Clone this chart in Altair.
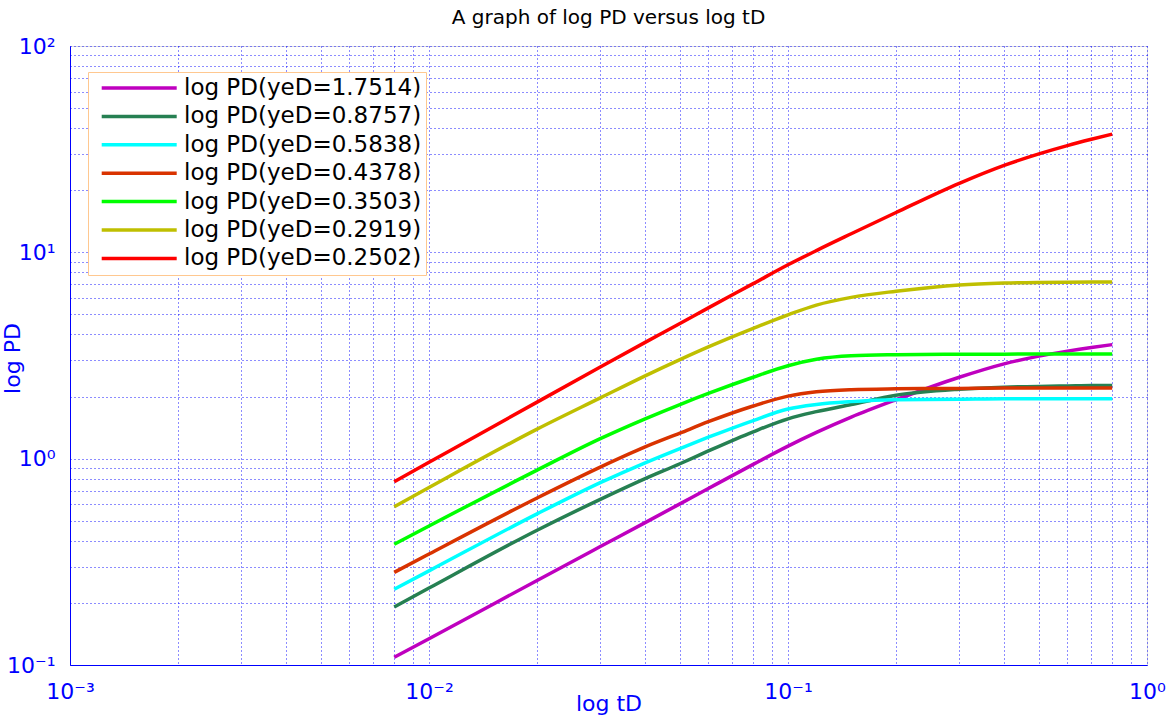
import altair as alt
import pandas as pd

# ---- data ----
tD = [0.008, 0.01, 0.02, 0.03, 0.04, 0.05, 0.06, 0.08, 0.1, 0.12, 0.15, 0.2, 0.3, 0.4, 0.5, 0.6, 0.7, 0.8]

series_labels = [
    "log PD(yeD=1.7514)",
    "log PD(yeD=0.8757)",
    "log PD(yeD=0.5838)",
    "log PD(yeD=0.4378)",
    "log PD(yeD=0.3503)",
    "log PD(yeD=0.2919)",
    "log PD(yeD=0.2502)",
]
series_colors = ["#BF00BF", "#268052", "#00FFFF", "#D93300", "#00FF00", "#BFBF00", "#FF0000"]

pd_1_7514 = [0.109, 0.134, 0.257, 0.375, 0.49, 0.604, 0.717, 0.938, 1.15, 1.34, 1.59, 1.93, 2.48, 2.88, 3.14, 3.32, 3.46, 3.57]
pd_0_8757 = [0.191, 0.236, 0.45, 0.635, 0.80, 0.945, 1.09, 1.35, 1.56, 1.69, 1.83, 2.03, 2.17, 2.22, 2.24, 2.25, 2.26, 2.26]
pd_0_5838 = [0.233, 0.286, 0.54, 0.765, 0.955, 1.12, 1.27, 1.53, 1.74, 1.83, 1.89, 1.93, 1.94, 1.95, 1.95, 1.95, 1.95, 1.95]
pd_0_4378 = [0.281, 0.345, 0.645, 0.91, 1.14, 1.33, 1.51, 1.80, 2.01, 2.11, 2.16, 2.18, 2.19, 2.20, 2.20, 2.20, 2.20, 2.20]
pd_0_3503 = [0.385, 0.472, 0.88, 1.25, 1.56, 1.83, 2.07, 2.48, 2.82, 3.03, 3.15, 3.19, 3.21, 3.21, 3.22, 3.22, 3.22, 3.22]
pd_0_2919 = [0.585, 0.725, 1.39, 1.97, 2.52, 3.02, 3.48, 4.28, 4.98, 5.55, 6.05, 6.48, 6.95, 7.10, 7.15, 7.17, 7.18, 7.18]
pd_0_2502 = [0.773, 0.96, 1.88, 2.78, 3.66, 4.52, 5.38, 7.05, 8.7, 10.2, 12.3, 15.6, 21.6, 26.4, 30.0, 32.9, 35.3, 37.4]

all_series = [pd_1_7514, pd_0_8757, pd_0_5838, pd_0_4378, pd_0_3503, pd_0_2919, pd_0_2502]

x_grid_values = [m * 10.0 ** e for e in (-3, -2, -1) for m in range(1, 10)] + [1.0]
y_grid_values = [m * 10.0 ** e for e in (-1, 0, 1) for m in range(1, 10)] + [100.0]

rows = []
for label, vals in zip(series_labels, all_series):
    for t, v in zip(tD, vals):
        rows.append({"series": label, "tD": t, "PD": v})
df = pd.DataFrame(rows)

BLUE = "#0000FF"
FONT = "DejaVu Sans"

x_label_expr = (
    "abs(log(datum.value)/LN10 - round(log(datum.value)/LN10)) < 0.001 ? "
    "['10⁻³','10⁻²','10⁻¹','10⁰'][round(log(datum.value)/LN10)+3] : ''"
)
y_label_expr = (
    "abs(log(datum.value)/LN10 - round(log(datum.value)/LN10)) < 0.001 ? "
    "['10⁻¹','10⁰','10¹','10²'][round(log(datum.value)/LN10)+1] : ''"
)

chart = (
    alt.Chart(df)
    .mark_line(strokeWidth=3.5, interpolate="monotone")
    .encode(
        x=alt.X(
            "tD:Q",
            scale=alt.Scale(type="log", domain=[0.001, 1], nice=False),
            axis=alt.Axis(
                title="log tD",
                values=x_grid_values,
                labelExpr=x_label_expr,
                labelOverlap=False,
                labelFlush=False,
                labelFont=FONT,
                labelFontSize=22,
                labelColor=BLUE,
                labelBaseline="alphabetic",
                labelPadding=33,
                ticks=False,
                tickSize=0,
                domainColor=BLUE,
                grid=True,
                gridColor=BLUE,
                gridDash=[1, 3],
                gridOpacity=0.9,
                titleFont=FONT,
                titleFontSize=22,
                titleFontWeight="normal",
                titleColor=BLUE,
                titleBaseline="alphabetic",
                titleY=45,
            ),
        ),
        y=alt.Y(
            "PD:Q",
            scale=alt.Scale(type="log", domain=[0.1, 100], nice=False),
            axis=alt.Axis(
                title="log PD",
                values=y_grid_values,
                labelExpr=y_label_expr,
                labelOverlap=False,
                labelFlush=False,
                labelFont=FONT,
                labelFontSize=22,
                labelColor=BLUE,
                labelPadding=15,
                ticks=False,
                tickSize=0,
                domainColor=BLUE,
                grid=True,
                gridColor=BLUE,
                gridDash=[1, 3],
                gridOpacity=0.9,
                titleFont=FONT,
                titleFontSize=22,
                titleFontWeight="normal",
                titleColor=BLUE,
                titleBaseline="alphabetic",
                titleAngle=-90,
                titleX=-51,
                titleY=312,
            ),
        ),
        color=alt.Color(
            "series:N",
            scale=alt.Scale(domain=series_labels, range=series_colors),
            legend=alt.Legend(
                title=None,
                orient="none",
                legendX=18,
                legendY=26,
                direction="vertical",
                symbolType="M-5,0L5,0",
                symbolSize=225,
                symbolStrokeWidth=3.5,
                symbolOffset=35.2,
                labelOffset=33.3,
                labelFont=FONT,
                labelFontSize=23,
                labelColor="black",
                labelLimit=0,
                rowPadding=4.4,
                padding=4.5,
                strokeColor="#FFC890",
                fillColor="white",
            ),
        ),
    )
    .properties(
        width=1077,
        height=619,
        title=alt.TitleParams(
            "A graph of log PD versus log tD",
            font=FONT,
            fontSize=20,
            fontWeight="normal",
            color="black",
            anchor="middle",
            baseline="alphabetic",
            offset=-9,
        ),
        autosize=alt.AutoSizeParams(type="none"),
        padding={"left": 70, "top": 46, "right": 27, "bottom": 52},
    )
    .configure_view(stroke=BLUE, strokeWidth=1)
    .configure(background="white")
)

chart.save("out.html", embed_options={"renderer": "svg", "actions": False})
